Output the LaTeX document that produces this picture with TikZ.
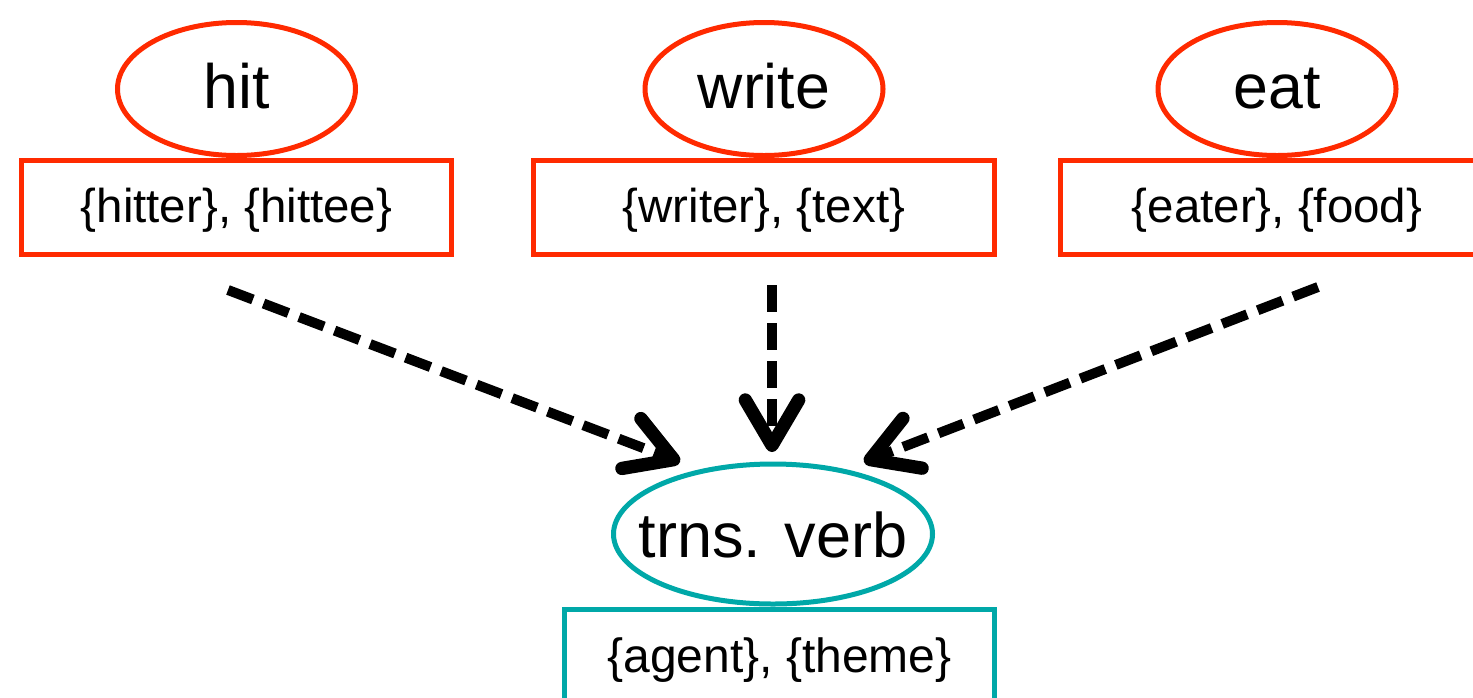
\documentclass[tikz,border=0pt]{standalone}
\usepackage{fontspec}
\setmainfont{Liberation Sans}
\usetikzlibrary{arrows.meta,shapes.geometric}
\definecolor{framered}{HTML}{FF2A00}
\definecolor{frameteal}{HTML}{00A8A8}
% zero-width label so the ellipse keeps its own size
\newcommand{\tightlabel}[1]{\makebox[0pt]{#1}}
\begin{document}
\begin{tikzpicture}[x=0.75pt,y=-0.75pt,
  outline/.style={draw, line width=3.75pt, inner sep=0pt, text=black},
  verbshape/.style={outline, ellipse, draw=framered,
    minimum width=178.5pt, minimum height=99.75pt,
    text height=34pt, text depth=5.5pt,
    font=\fontsize{47}{52}\selectfont},
  rolebox/.style={outline, rectangle, draw=framered, minimum height=70.5pt,
    text height=26pt, text depth=4.2pt,
    font=\fontsize{35.6}{40}\selectfont},
  classshape/.style={outline, ellipse, draw=frameteal,
    minimum width=239.25pt, minimum height=105pt,
    text height=38pt, text depth=3.5pt,
    font=\fontsize{47.3}{52}\selectfont},
  classbox/.style={outline, rectangle, draw=frameteal, minimum height=72pt,
    minimum width=322.5pt, text height=26pt, text depth=4.2pt,
    font=\fontsize{36}{40}\selectfont},
  flow/.style={line width=7.5pt, dash pattern=on 20pt off 8.5pt,
    -{Straight Barb[length=34pt,width=40pt,line width=10pt,round]}}]
  \useasboundingbox (0,0) rectangle (1473,697);
  \clip (0,0) rectangle (1473,697);

  % individual verbs with their role sets
  \node[verbshape] (hit) at (236.5,89) {\tightlabel{hit}};
  \node[rolebox, minimum width=322.5pt] (hitroles) at (236.5,207.5)
    {\{hitter\}, \{hittee\}};
  \node[verbshape] (write) at (764,89) {\tightlabel{write}};
  \node[rolebox, minimum width=345.75pt] (writeroles) at (764,207.5)
    {\{writer\}, \{text\}};
  \node[verbshape] (eat) at (1277,89) {\tightlabel{eat}};
  \node[rolebox, minimum width=324.75pt] (eatroles) at (1277,207.5)
    {\{eater\}, \{food\}};

  % generalised class
  \node[classshape] (trns) at (773,534) {\tightlabel{trns. verb}};
  \node[classbox] (trnsroles) at (779.5,657.5) {\{agent\}, \{theme\}};

  % generalisation arrows
  \coordinate (hitfrom) at (228,290);
  \coordinate (hitto) at (680,462);
  \coordinate (writefrom) at (772,285);
  \coordinate (writeto) at (772,452);
  \coordinate (eatfrom) at (1318,287);
  \coordinate (eatto) at (864,462);
  \draw[flow] (hitfrom) -- (hitto);
  \draw[flow] (writefrom) -- (writeto);
  \draw[flow] (eatfrom) -- (eatto);
\end{tikzpicture}
\end{document}
